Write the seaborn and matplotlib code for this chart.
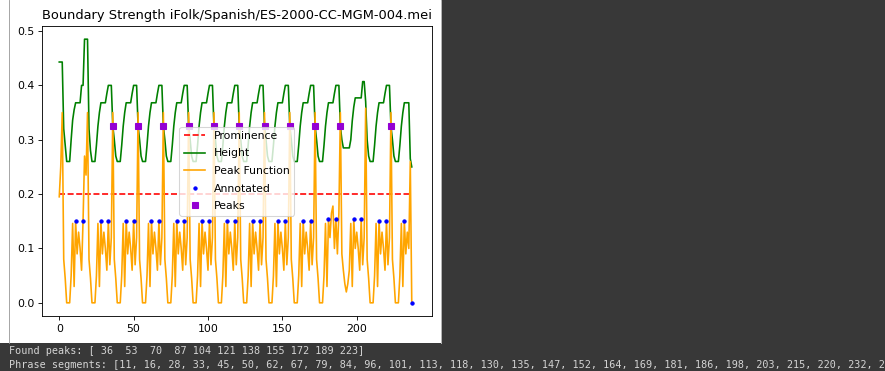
import matplotlib
matplotlib.use("Agg")
import matplotlib.pyplot as plt
from matplotlib.patches import Rectangle
from matplotlib.lines import Line2D
import seaborn as sns

# ---------------- data ----------------
title = "Boundary Strength iFolk/Spanish/ES-2000-CC-MGM-004.mei"

peak_function = [
    0.195, 0.250,
    0.350, 0.080, 0.045, 0.000, 0.000, 0.000, 0.050, 0.146, 0.030, 0.151, 0.090, 0.130, 0.100, 0.060, 0.151, 0.270, 0.235,
    0.350, 0.080, 0.045, 0.000, 0.000, 0.000, 0.050, 0.146, 0.030, 0.151, 0.090, 0.130, 0.100, 0.060, 0.151, 0.070, 0.120,
    0.350, 0.080, 0.045, 0.000, 0.000, 0.000, 0.050, 0.146, 0.030, 0.151, 0.090, 0.130, 0.100, 0.060, 0.151, 0.070, 0.120,
    0.350, 0.080, 0.045, 0.000, 0.000, 0.000, 0.050, 0.146, 0.030, 0.151, 0.090, 0.130, 0.100, 0.060, 0.151, 0.070, 0.120,
    0.350, 0.080, 0.045, 0.000, 0.000, 0.000, 0.050, 0.146, 0.030, 0.151, 0.090, 0.130, 0.100, 0.060, 0.151, 0.070, 0.120,
    0.350, 0.080, 0.045, 0.000, 0.000, 0.000, 0.050, 0.146, 0.030, 0.151, 0.090, 0.130, 0.100, 0.060, 0.151, 0.070, 0.120,
    0.350, 0.080, 0.045, 0.000, 0.000, 0.000, 0.050, 0.146, 0.030, 0.151, 0.090, 0.130, 0.100, 0.060, 0.151, 0.070, 0.120,
    0.350, 0.080, 0.045, 0.000, 0.000, 0.000, 0.050, 0.146, 0.030, 0.151, 0.090, 0.130, 0.100, 0.060, 0.151, 0.070, 0.120,
    0.350, 0.080, 0.045, 0.000, 0.000, 0.000, 0.050, 0.146, 0.030, 0.151, 0.090, 0.130, 0.100, 0.060, 0.151, 0.070, 0.120,
    0.350, 0.080, 0.045, 0.000, 0.000, 0.000, 0.050, 0.146, 0.030, 0.151, 0.090, 0.130, 0.100, 0.060, 0.151, 0.070, 0.120,
    0.350, 0.080, 0.045, 0.000, 0.000, 0.000, 0.050, 0.146, 0.030, 0.154, 0.120, 0.165, 0.178, 0.100, 0.154, 0.090, 0.165,
    0.350, 0.090, 0.060, 0.035, 0.020, 0.035, 0.060, 0.146, 0.030, 0.154, 0.100, 0.130, 0.100, 0.060, 0.154, 0.070, 0.120,
    0.358, 0.080, 0.045, 0.000, 0.000, 0.000, 0.050, 0.146, 0.030, 0.151, 0.090, 0.130, 0.100, 0.060, 0.151, 0.070, 0.120,
    0.350, 0.080, 0.045, 0.000, 0.000, 0.000, 0.050, 0.146, 0.030, 0.151, 0.090, 0.130, 0.100, 0.260, 0.000,
]

height = [
    0.443, 0.443,
    0.443, 0.320, 0.290, 0.260, 0.260, 0.260, 0.300, 0.336, 0.355, 0.368, 0.368, 0.368, 0.368, 0.400, 0.400, 0.485, 0.485,
    0.485, 0.320, 0.280, 0.260, 0.260, 0.260, 0.290, 0.325, 0.350, 0.368, 0.368, 0.368, 0.368, 0.385, 0.400, 0.400, 0.400,
    0.325, 0.300, 0.270, 0.260, 0.260, 0.260, 0.290, 0.325, 0.350, 0.368, 0.368, 0.368, 0.368, 0.385, 0.400, 0.400, 0.400,
    0.325, 0.300, 0.270, 0.260, 0.260, 0.260, 0.290, 0.325, 0.350, 0.368, 0.368, 0.368, 0.368, 0.385, 0.400, 0.400, 0.400,
    0.325, 0.300, 0.270, 0.260, 0.260, 0.260, 0.290, 0.325, 0.350, 0.368, 0.368, 0.368, 0.368, 0.385, 0.400, 0.400, 0.400,
    0.325, 0.300, 0.270, 0.260, 0.260, 0.260, 0.290, 0.325, 0.350, 0.368, 0.368, 0.368, 0.368, 0.385, 0.400, 0.400, 0.400,
    0.325, 0.300, 0.270, 0.260, 0.260, 0.260, 0.290, 0.325, 0.350, 0.368, 0.368, 0.368, 0.368, 0.385, 0.400, 0.400, 0.400,
    0.325, 0.300, 0.270, 0.260, 0.260, 0.260, 0.290, 0.325, 0.350, 0.368, 0.368, 0.368, 0.368, 0.385, 0.400, 0.400, 0.400,
    0.325, 0.300, 0.270, 0.260, 0.260, 0.260, 0.290, 0.325, 0.350, 0.368, 0.368, 0.368, 0.368, 0.385, 0.400, 0.400, 0.400,
    0.325, 0.300, 0.270, 0.260, 0.260, 0.260, 0.290, 0.325, 0.350, 0.368, 0.368, 0.368, 0.368, 0.385, 0.400, 0.400, 0.400,
    0.325, 0.300, 0.270, 0.260, 0.260, 0.260, 0.290, 0.325, 0.350, 0.368, 0.368, 0.368, 0.368, 0.385, 0.400, 0.400, 0.400,
    0.325, 0.300, 0.285, 0.285, 0.285, 0.285, 0.285, 0.300, 0.335, 0.360, 0.377, 0.377, 0.377, 0.377, 0.377, 0.407, 0.407,
    0.370, 0.300, 0.270, 0.260, 0.260, 0.260, 0.290, 0.325, 0.350, 0.368, 0.368, 0.368, 0.368, 0.385, 0.400, 0.400, 0.400,
    0.325, 0.300, 0.270, 0.260, 0.260, 0.260, 0.290, 0.325, 0.350, 0.368, 0.368, 0.368, 0.368, 0.265, 0.250,
]

prominence = 0.2

annotated_x = [11, 16, 28, 33, 45, 50, 62, 67, 79, 84, 96, 101, 113, 118, 130, 135,
               147, 152, 164, 169, 181, 186, 198, 203, 215, 220, 232, 237]
annotated_y = [0.151, 0.151, 0.151, 0.151, 0.151, 0.151, 0.151, 0.151, 0.151, 0.151,
               0.151, 0.151, 0.151, 0.151, 0.151, 0.151, 0.151, 0.151, 0.151, 0.151,
               0.154, 0.154, 0.154, 0.154, 0.151, 0.151, 0.151, 0.000]

peaks_x = [36, 53, 70, 87, 104, 121, 138, 155, 172, 189, 223]
peaks_y = [0.325, 0.325, 0.325, 0.325, 0.325, 0.325, 0.325, 0.325, 0.325, 0.325, 0.325]

found_peaks_text = "Found peaks: [ 36  53  70  87 104 121 138 155 172 189 223]"
phrase_text = "Phrase segments: [" + ", ".join(str(v) for v in annotated_x) + "]"

# ---------------- figure ----------------
W, H, DPI = 885, 371, 78
fig = plt.figure(figsize=(W / DPI, H / DPI), dpi=DPI, facecolor="#383838")

# white output panel (drawn beneath the axes)
fig.patches.append(Rectangle((0, (H - 343) / H), 441 / W, 343 / H, transform=fig.transFigure,
                             facecolor="white", edgecolor="none", zorder=-10))
fig.lines.append(Line2D([8.5 / W, 8.5 / W], [(H - 343) / H, 1], transform=fig.transFigure,
                        color="#9a9a9a", lw=0.8, zorder=-5))
fig.lines.append(Line2D([440.5 / W, 440.5 / W], [(H - 343) / H, 1], transform=fig.transFigure,
                        color="#c8c8c8", lw=0.8, zorder=-5))

ax = fig.add_axes([42 / W, (H - 316) / H, (431.7 - 42) / W, 290 / H])
ax.set_zorder(1)

idx = list(range(len(peak_function)))
prom_line = [prominence for _ in idx]

sns.lineplot(x=idx, y=prom_line, ax=ax, color="red", linestyle="--", label="Prominence",
             estimator=None, errorbar=None)
sns.lineplot(x=idx, y=height, ax=ax, color="green", label="Height",
             estimator=None, errorbar=None)
sns.lineplot(x=idx, y=peak_function, ax=ax, color="orange", label="Peak Function",
             estimator=None, errorbar=None)
sns.lineplot(x=annotated_x, y=annotated_y, ax=ax, color="blue", linestyle="", marker=".",
             markersize=6, markeredgecolor="blue", markeredgewidth=1.0, label="Annotated",
             estimator=None, errorbar=None)
sns.lineplot(x=peaks_x, y=peaks_y, ax=ax, color="darkviolet", linestyle="", marker="s",
             markersize=6, markeredgecolor="darkviolet", markeredgewidth=1.0, label="Peaks",
             estimator=None, errorbar=None)

ax.set_xlim(-11.6, 250.4)
ax.set_xticks([0, 50, 100, 150, 200])
ax.set_yticks([0.0, 0.1, 0.2, 0.3, 0.4, 0.5])
ax.set_xlabel("")
ax.set_ylabel("")
ax.set_title(title, fontsize=12)
ax.tick_params(labelsize=10)
ax.legend(loc="center", fontsize=10, labelspacing=0.7)

fs = 10.1 * 72 / DPI
fig.text(9 / W, (H - 353.5) / H, found_peaks_text, family="DejaVu Sans Mono", fontsize=fs,
         color="#d4d4d4", va="baseline", ha="left")
fig.text(9 / W, (H - 367.5) / H, phrase_text, family="DejaVu Sans Mono", fontsize=fs,
         color="#d4d4d4", va="baseline", ha="left")

fig.savefig("out.png", dpi=DPI, facecolor=fig.get_facecolor())
